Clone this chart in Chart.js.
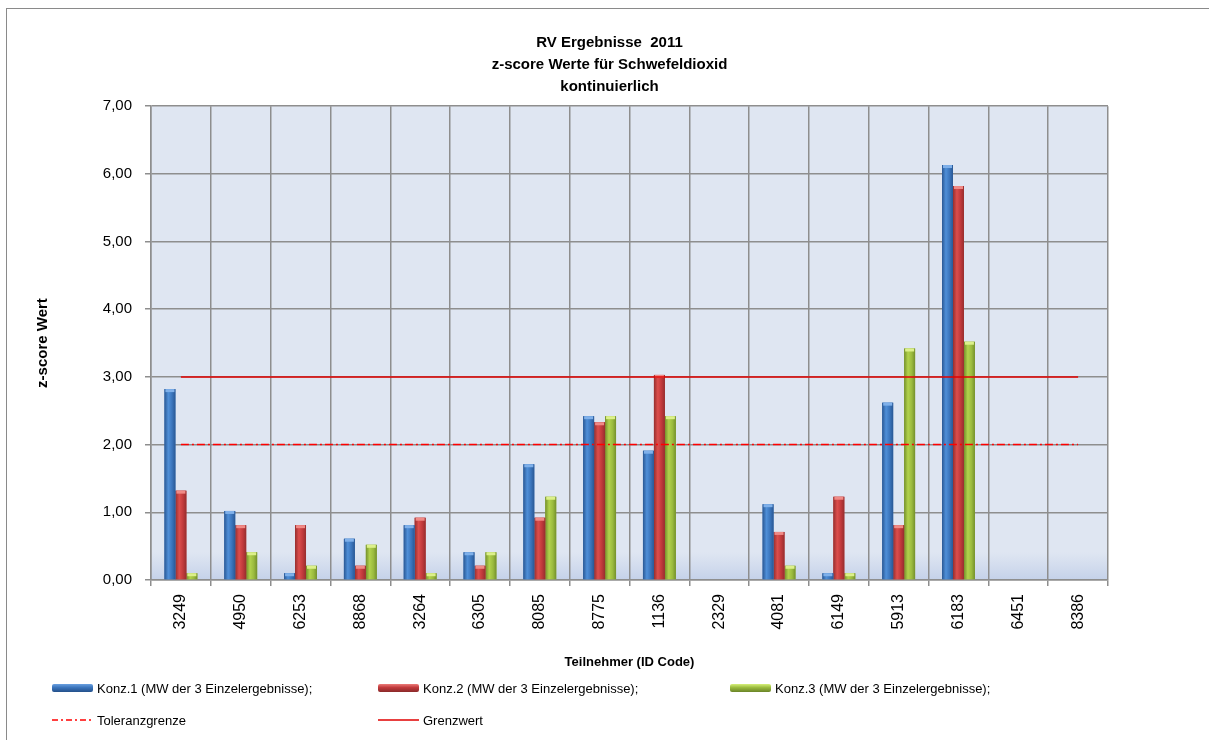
<!DOCTYPE html>
<html lang="de">
<head>
<meta charset="utf-8">
<title>RV Ergebnisse 2011</title>
<script src="https://cdn.jsdelivr.net/npm/chart.js@4"></script>
<style>
    html, body { margin: 0; padding: 0; background: #fff; }
    #wrap { position: relative; width: 1209px; height: 740px; font-family: "Liberation Sans", Arial, sans-serif; }
    #chart { position: absolute; left: 0; top: 0; }
    .leg { position: absolute; display: flex; align-items: center; height: 18px; font-size: 13px; color: #000; white-space: nowrap; }
    .sw { width: 41px; height: 8px; margin-right: 4px; border-radius: 2px; }
    .sw-line { width: 41px; height: 4px; margin-right: 4px; }
</style>
</head>
<body>
<div id="wrap">
    <canvas id="chart" width="1209" height="740"></canvas>
    <div class="leg" style="left:52px; top:679px;">
        <div class="sw" style="background: linear-gradient(#6aa0e0, #3a74bb 45%, #24508a);"></div>
        <span>Konz.1 (MW der 3 Einzelergebnisse);</span>
    </div>
    <div class="leg" style="left:378px; top:679px;">
        <div class="sw" style="background: linear-gradient(#ec7b78, #c0393b 45%, #8a2a2a);"></div>
        <span>Konz.2 (MW der 3 Einzelergebnisse);</span>
    </div>
    <div class="leg" style="left:730px; top:679px;">
        <div class="sw" style="background: linear-gradient(#d6f07a, #9aba3e 45%, #6a8428);"></div>
        <span>Konz.3 (MW der 3 Einzelergebnisse);</span>
    </div>
    <div class="leg" style="left:52px; top:711px;">
        <svg class="sw-line" viewBox="0 0 41 4"><line x1="0" y1="2" x2="41" y2="2" stroke="#ff0000" stroke-width="1.5" stroke-dasharray="6,3,2,3"/></svg>
        <span>Toleranzgrenze</span>
    </div>
    <div class="leg" style="left:378px; top:711px;">
        <svg class="sw-line" viewBox="0 0 41 4"><line x1="0" y1="2" x2="41" y2="2" stroke="#e00000" stroke-width="1.5"/></svg>
        <span>Grenzwert</span>
    </div>
</div>
<script>
// Teilnehmer (ID Code)
const categories = ['3249', '4950', '6253', '8868', '3264', '6305', '8085', '8775',
                    '1136', '2329', '4081', '6149', '5913', '6183', '6451', '8386'];

// z-score Werte, null = kein Ergebnis
const konz1 = [2.82, 1.02, 0.10, 0.61, 0.81, 0.41, 1.71, 2.42, 1.91, null, 1.12, 0.10, 2.62, 6.13, null, null];
const konz2 = [1.32, 0.81, 0.81, 0.21, 0.92, 0.21, 0.92, 2.33, 3.03, null, 0.71, 1.23, 0.81, 5.82, null, null];
const konz3 = [0.10, 0.41, 0.21, 0.52, 0.10, 0.41, 1.23, 2.42, 2.42, null, 0.21, 0.10, 3.42, 3.52, null, null];

const toleranzgrenze = [2, 2, 2, 2, 2, 2, 2, 2, 2, 2, 2, 2, 2, 2, 2, 2];
const grenzwert = [3, 3, 3, 3, 3, 3, 3, 3, 3, 3, 3, 3, 3, 3, 3, 3];

const yTicks = [0, 1, 2, 3, 4, 5, 6, 7];

const fmt = v => v.toFixed(2).replace('.', ',');

// plot background + outer frame
const backgroundPlugin = {
    id: 'background',
    beforeDraw(chart) {
        const { ctx, chartArea: a } = chart;
        ctx.save();
        ctx.fillStyle = '#ffffff';
        ctx.fillRect(0, 0, chart.width, chart.height);
        ctx.strokeStyle = '#8a8a8a';
        ctx.lineWidth = 1;
        ctx.strokeRect(6.5, 8.5, chart.width + 10, chart.height + 10);
        ctx.fillStyle = '#dfe6f2';
        ctx.fillRect(a.left, a.top, a.right - a.left, a.bottom - a.top);
        const floor = ctx.createLinearGradient(0, a.bottom - 28, 0, a.bottom);
        floor.addColorStop(0, 'rgba(200,212,234,0)');
        floor.addColorStop(1, 'rgba(196,209,233,1)');
        ctx.fillStyle = floor;
        ctx.fillRect(a.left, a.bottom - 28, a.right - a.left, 28);
        ctx.restore();
    }
};

// shaded cylinder look on top of the library's bars
const barShadePlugin = {
    id: 'barShade',
    afterDatasetDraw(chart, args) {
        const ds = chart.data.datasets[args.index];
        if (!ds.shade) return;
        const ctx = chart.ctx;
        ctx.save();
        args.meta.data.forEach(bar => {
            const { x, y, base, width } = bar.getProps(['x', 'y', 'base', 'width'], true);
            if (!isFinite(y) || base - y < 0.5) return;
            const left = x - width / 2;
            const g = ctx.createLinearGradient(left, 0, left + width, 0);
            g.addColorStop(0, ds.shade[0]);
            g.addColorStop(0.35, ds.shade[1]);
            g.addColorStop(0.7, ds.shade[2]);
            g.addColorStop(1, ds.shade[0]);
            ctx.fillStyle = g;
            ctx.fillRect(left, y, width, base - y);
            ctx.fillStyle = ds.shade[3];
            ctx.fillRect(left + 1, y, width - 2, 3);
        });
        ctx.restore();
    }
};

new Chart(document.getElementById('chart'), {
    data: {
        labels: categories,
        datasets: [
            {
                type: 'line', label: 'Toleranzgrenze', data: toleranzgrenze, order: 1,
                borderColor: '#ff0000', borderWidth: 1.5, borderDash: [8, 3, 2, 3],
                pointRadius: 0, fill: false
            },
            {
                type: 'line', label: 'Grenzwert', data: grenzwert, order: 1,
                borderColor: '#e00000', borderWidth: 1.5,
                pointRadius: 0, fill: false
            },
            {
                type: 'bar', label: 'Konz.1 (MW der 3 Einzelergebnisse);', data: konz1, order: 2,
                backgroundColor: '#3a74bb', shade: ['#2a5894', '#4f8fd8', '#3a74bb', '#7fb0ea']
            },
            {
                type: 'bar', label: 'Konz.2 (MW der 3 Einzelergebnisse);', data: konz2, order: 2,
                backgroundColor: '#c0393b', shade: ['#962e2e', '#dc4e4c', '#c0393b', '#f08a86']
            },
            {
                type: 'bar', label: 'Konz.3 (MW der 3 Einzelergebnisse);', data: konz3, order: 2,
                backgroundColor: '#9aba3e', shade: ['#74902c', '#b2d24c', '#9aba3e', '#dcf08a']
            }
        ]
    },
    options: {
        responsive: false,
        animation: false,
        layout: { padding: { left: 30, right: 20, top: 0, bottom: 70 } },
        datasets: {
            bar: { barPercentage: 1, categoryPercentage: 0.55 }
        },
        plugins: {
            legend: { display: false },
            tooltip: { enabled: false },
            title: {
                display: true,
                text: ['RV Ergebnisse  2011', 'z-score Werte für Schwefeldioxid', 'kontinuierlich'],
                color: '#000',
                font: { family: 'Liberation Sans', size: 15, weight: 'bold', lineHeight: 1.47 },
                padding: { top: 32, bottom: 8 }
            }
        },
        scales: {
            x: {
                grid: { offset: true, color: '#8e8e8e', lineWidth: 1.5, tickLength: 6 },
                border: { color: '#8e8e8e', width: 1.5 },
                ticks: {
                    autoSkip: false, minRotation: 90, maxRotation: 90, padding: 8,
                    color: '#000', font: { family: 'Liberation Sans', size: 16 }
                },
                title: {
                    display: true, text: 'Teilnehmer (ID Code)', color: '#000',
                    font: { family: 'Liberation Sans', size: 13, weight: 'bold' },
                    padding: { top: 4, bottom: 0 }
                },
                afterFit(scale) { scale.height = 90; }
            },
            y: {
                min: 0, max: 7,
                afterBuildTicks(scale) { scale.ticks = yTicks.map(v => ({ value: v })); },
                grid: { color: '#8e8e8e', lineWidth: 1.5, tickLength: 6 },
                border: { color: '#8e8e8e', width: 1.5 },
                ticks: {
                    padding: 13, color: '#000',
                    font: { family: 'Liberation Sans', size: 15 },
                    callback: v => fmt(v)
                },
                title: {
                    display: true, text: 'z-score Wert', color: '#000',
                    font: { family: 'Liberation Sans', size: 15, weight: 'bold' }
                },
                afterFit(scale) { scale.width = 121; }
            },
            y2: {
                position: 'right', min: 0, max: 7,
                ticks: { display: false },
                grid: { display: false },
                border: { display: false },
                afterFit(scale) { scale.width = 81; }
            }
        }
    },
    plugins: [backgroundPlugin, barShadePlugin]
});
</script>
</body>
</html>
